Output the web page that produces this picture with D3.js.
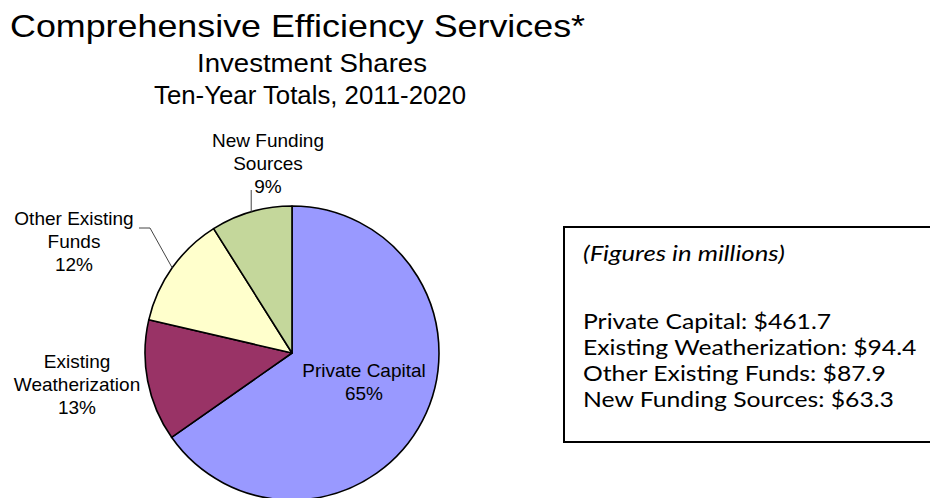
<!DOCTYPE html>
<html>
<head>
<meta charset="utf-8">
<script src="https://cdn.jsdelivr.net/npm/d3@7"></script>
<style>
  body { margin: 0; background: #fff; }
  svg { display: block; }
</style>
</head>
<body>
<div id="chart"></div>
<script>
// ---- data ----
var categories = ["Private Capital", "Existing Weatherization", "Other Existing Funds", "New Funding Sources"];
var amounts = [461.7, 94.4, 87.9, 63.3];          // $ millions, ten-year totals
var shareLabels = ["65%", "13%", "12%", "9%"];
var labelLines = [["Private Capital"], ["Existing", "Weatherization"], ["Other Existing", "Funds"], ["New Funding", "Sources"]];
var sliceColors = ["#9999ff", "#993366", "#ffffcc", "#c4d79b"];

// ---- layout ----
var W = 930, H = 498;
var cx = 292, cy = 353, radius = 147;
var sans = "'Liberation Sans', Arial, sans-serif";

var svg = d3.select("#chart").append("svg")
    .attr("width", W)
    .attr("height", H);

// titles
svg.append("text")
    .attr("x", 10).attr("y", 37)
    .attr("textLength", 575).attr("lengthAdjust", "spacingAndGlyphs")
    .style("font", "32px " + sans)
    .text("Comprehensive Efficiency Services*");
svg.append("text")
    .attr("x", 312).attr("y", 72)
    .attr("text-anchor", "middle")
    .attr("textLength", 230).attr("lengthAdjust", "spacingAndGlyphs")
    .style("font", "25px " + sans)
    .text("Investment Shares");
svg.append("text")
    .attr("x", 310).attr("y", 104)
    .attr("text-anchor", "middle")
    .attr("textLength", 312).attr("lengthAdjust", "spacingAndGlyphs")
    .style("font", "25px " + sans)
    .text("Ten-Year Totals, 2011-2020");

// pie
var pie = d3.pie().sort(null).value(function(d) { return d; });
var arcs = pie(amounts);
var arc = d3.arc().innerRadius(0).outerRadius(radius);
var edge = d3.arc().innerRadius(radius).outerRadius(radius);

var g = svg.append("g").attr("transform", "translate(" + cx + "," + cy + ")");

g.selectAll("path.slice")
    .data(arcs)
    .enter()
    .append("path")
    .attr("class", "slice")
    .attr("d", arc)
    .attr("fill", function(d, i) { return sliceColors[i]; })
    .attr("stroke", "#000")
    .attr("stroke-width", 1.6)
    .attr("stroke-linejoin", "round");

// label anchors relative to pie centre (centre x of text block, baseline of first line)
var labelPos = [
    { x: 72,   y: 24 },
    { x: -215, y: 15 },
    { x: -218, y: -128 },
    { x: -24,  y: -206 }
];
var lineH = 23;

labelLines.forEach(function(lines, i) {
    var t = g.append("text")
        .attr("text-anchor", "middle")
        .style("font", "19px " + sans)
        .style("fill", "#000");
    lines.concat([shareLabels[i]]).forEach(function(s, k) {
        t.append("tspan")
            .attr("x", labelPos[i].x)
            .attr("y", labelPos[i].y + k * lineH)
            .text(s);
    });
});

// leader lines to the slice edge (New Funding, Other Existing)
var leaderColor = "#444";
var pNew = edge.centroid(arcs[3]);
g.append("polyline")
    .attr("points", [[pNew[0], pNew[1]], [pNew[0], -163]].map(function(p) { return p.join(","); }).join(" "))
    .attr("fill", "none").attr("stroke", leaderColor).attr("stroke-width", 1);
var pOther = edge.centroid(arcs[2]);
g.append("polyline")
    .attr("points", [[-153, -125], [-142, -125], [pOther[0], pOther[1]]].map(function(p) { return p.join(","); }).join(" "))
    .attr("fill", "none").attr("stroke", leaderColor).attr("stroke-width", 1);

// figures box
var box = svg.append("g");
box.append("rect")
    .attr("x", 564).attr("y", 227)
    .attr("width", 380).attr("height", 215)
    .attr("fill", "#fff")
    .attr("stroke", "#000")
    .attr("stroke-width", 2);
var boxFont = "22px Lato, 'Open Sans', sans-serif";
box.append("text")
    .attr("transform", "translate(583,261) scale(1.17,1)")
    .style("font", "italic " + boxFont)
    .text("(Figures in millions)");
box.selectAll("text.fig")
    .data(categories)
    .enter()
    .append("text")
    .attr("class", "fig")
    .attr("transform", function(d, i) { return "translate(583," + (329 + i * 26) + ") scale(1.125,1)"; })
    .style("font", boxFont)
    .text(function(d, i) { return d + ": $" + amounts[i].toFixed(1); });
</script>
</body>
</html>
